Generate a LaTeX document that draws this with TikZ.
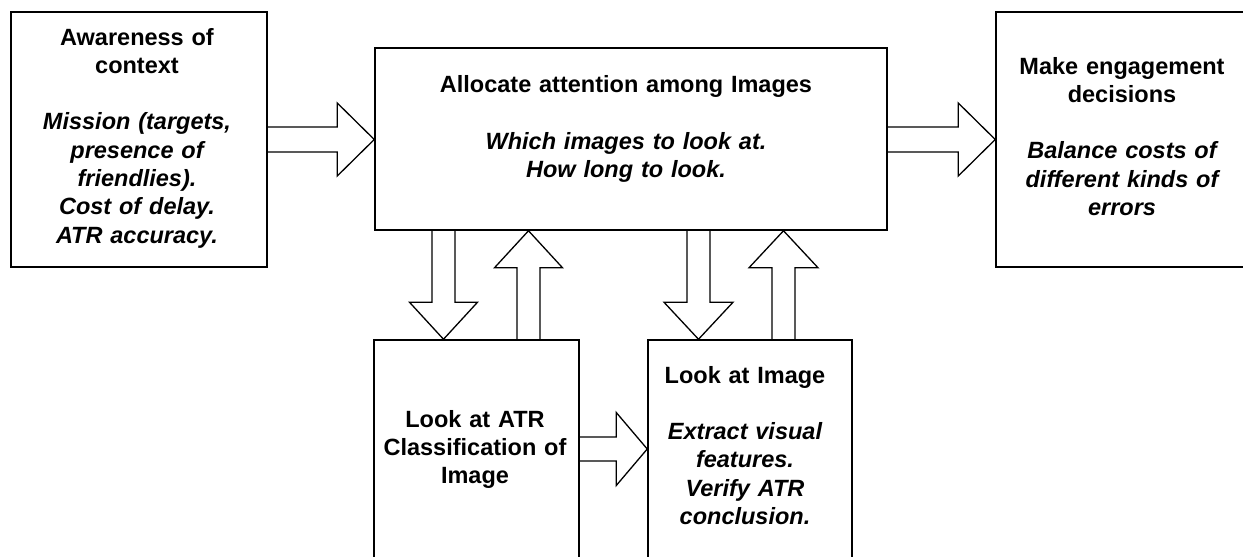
\documentclass[tikz,border=0pt]{standalone}
\usepackage{fontspec}
\setmainfont{Liberation Sans}
\usetikzlibrary{calc}
\tikzset{
  box/.style={draw, line width=1.5pt, inner sep=0pt},
  lbl/.style={inner sep=0pt, align=center, anchor=base, font=\fontsize{23.5}{28.3}\selectfont\bfseries},
  blk/.style={draw, line width=1.3pt, line join=miter}
}
\newcommand\harr[6]{%
  \pgfmathsetmacro\ya{#3-#4}\pgfmathsetmacro\yb{#3+#4}%
  \pgfmathsetmacro\yc{#3-#5}\pgfmathsetmacro\yd{#3+#5}%
  \path (#2.west) ++(-#6,0) coordinate (hb);
  \draw[blk] (#1.east|-0,\ya) -- (hb|-0,\ya) -- (hb|-0,\yc) -- (#2.west|-0,#3) -- (hb|-0,\yd) -- (hb|-0,\yb) -- (#1.east|-0,\yb);}
\newcommand\darr[6]{%
  \pgfmathsetmacro\xa{#3-#4}\pgfmathsetmacro\xb{#3+#4}%
  \pgfmathsetmacro\xc{#3-#5}\pgfmathsetmacro\xd{#3+#5}%
  \path (#2.north) ++(0,-#6) coordinate (hb);
  \draw[blk] (#1.south-|\xa,0) -- (hb-|\xa,0) -- (hb-|\xc,0) -- (#2.north-|#3,0) -- (hb-|\xd,0) -- (hb-|\xb,0) -- (#1.south-|\xb,0);}
\newcommand\uarr[6]{%
  \pgfmathsetmacro\xa{#3-#4}\pgfmathsetmacro\xb{#3+#4}%
  \pgfmathsetmacro\xc{#3-#5}\pgfmathsetmacro\xd{#3+#5}%
  \path (#2.south) ++(0,#6) coordinate (hb);
  \draw[blk] (#1.north-|\xa,0) -- (hb-|\xa,0) -- (hb-|\xc,0) -- (#2.south-|#3,0) -- (hb-|\xd,0) -- (hb-|\xb,0) -- (#1.north-|\xb,0);}
\begin{document}
\begin{tikzpicture}[x=1pt,y=-1pt]
\useasboundingbox (0,0) rectangle (1243,557);
\clip (0,0) rectangle (1243,557);
\fill[white] (0,0) rectangle (1243,557);
% boxes
\node[box, minimum width=256pt, minimum height=255pt] (L) at (139,139.5) {};
\node[box, minimum width=512pt, minimum height=182pt] (T) at (631,139) {};
\node[box, minimum width=254pt, minimum height=255pt] (R) at (1123,139.5) {};
\node[box, minimum width=205pt, minimum height=260pt] (BL) at (476.5,470) {};
\node[box, minimum width=204pt, minimum height=260pt] (BR) at (750,470) {};
% labels
\node[lbl, text width=250pt] (Lt) at (137,45) {Awareness of\\ context\\[28.3pt]{\itshape Mission (targets,\\ presence of\\ friendlies).\\ Cost of delay.\\ ATR accuracy.}};
\node[lbl, text width=480pt] (Tt) at (626,92.7) {Allocate attention among Images\\[28.3pt]{\itshape Which images to look at.\\ How long to look.}};
\node[lbl, text width=250pt] (Rt) at (1122,74) {Make engagement\\ decisions\\[28.3pt]{\itshape Balance costs of\\ different kinds of\\ errors}};
\node[lbl, text width=200pt] (BLt) at (475,427) {Look at ATR\\ Classification of\\ Image};
\node[lbl, text width=200pt] (BRt) at (745,383) {Look at Image\\[28.3pt]{\itshape Extract visual\\ features.\\ Verify ATR\\ conclusion.}};
% block arrows
\harr{L}{T}{139.5}{12.5}{36.5}{37}
\harr{T}{R}{139.5}{12.5}{36.5}{37}
\harr{BL}{BR}{449}{12}{36.5}{31}
\darr{T}{BL}{443.5}{11.5}{34}{37}
\uarr{BL}{T}{528.5}{11.5}{34}{37}
\darr{T}{BR}{698.5}{11.5}{34.5}{37}
\uarr{BR}{T}{783.5}{11.5}{34.5}{37}
\end{tikzpicture}
\end{document}
